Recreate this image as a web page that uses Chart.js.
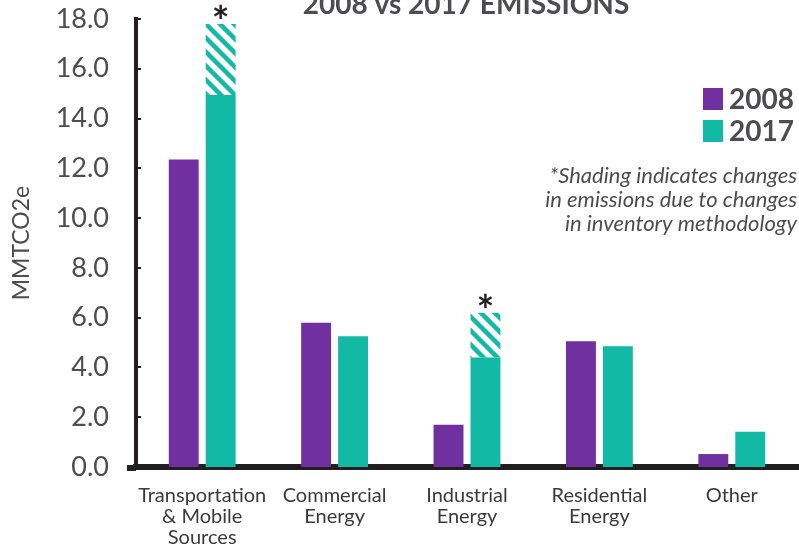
<!DOCTYPE html>
<html>
<head>
<meta charset="utf-8">
<script src="https://cdn.jsdelivr.net/npm/chart.js@4.4.1/dist/chart.umd.min.js"></script>
<style>
  html, body { margin: 0; padding: 0; background: #ffffff; }
  #wrap { width: 799px; height: 548px; position: relative; }
</style>
</head>
<body>
<div id="wrap"><canvas id="c" width="799" height="548"></canvas></div>
<script>
// ---- data ----
const categories = [
  ['Transportation', '& Mobile', 'Sources'],
  ['Commercial', 'Energy'],
  ['Industrial', 'Energy'],
  ['Residential', 'Energy'],
  'Other'
];
const seriesNames = ['2008', '2017'];
const values2008 = [12.35, 5.80, 1.70, 5.05, 0.52];
const values2017 = [14.95, 5.25, 4.40, 4.85, 1.42];
const methodologyChange2017 = [2.85, 0, 1.80, 0, 0];
const yTicks = [0, 2, 4, 6, 8, 10, 12, 14, 16, 18];
const titleText = '2008 vs 2017 EMISSIONS';
const yTitle = 'MMTCO2e';
const noteLines = ['*Shading indicates changes', 'in emissions due to changes', 'in inventory methodology'];

const PURPLE = '#7030A0';
const TEAL = '#12B9A5';
const INK = '#4d4d4f';
const AXIS = '#231f20';

function hatchPattern() {
  const s = 14;
  const c = document.createElement('canvas');
  c.width = s; c.height = s;
  const g = c.getContext('2d');
  g.fillStyle = '#ffffff';
  g.fillRect(0, 0, s, s);
  g.strokeStyle = TEAL;
  g.lineWidth = 4.5;
  g.lineCap = 'square';
  g.beginPath();
  g.moveTo(-s, -s); g.lineTo(2 * s, 2 * s);
  g.moveTo(-s, 0); g.lineTo(s, 2 * s);
  g.moveTo(0, -s); g.lineTo(2 * s, s);
  g.stroke();
  return g.createPattern(c, 'repeat');
}

const CHART_LEFT = 136;
const CHART_TOP = 19;
const CHART_BOTTOM = 467;

const extras = {
  id: 'extras',
  afterDraw(chart) {
    const ctx = chart.ctx;
    const area = chart.chartArea;
    const y = chart.scales.y;
    ctx.save();
    // title (partially cut off at top)
    ctx.fillStyle = INK;
    ctx.font = 'bold 28px Lato';
    ctx.textAlign = 'center';
    ctx.textBaseline = 'alphabetic';
    ctx.fillText(titleText, 466, 14);

    // inner y ticks
    ctx.strokeStyle = AXIS;
    ctx.lineWidth = 2;
    yTicks.forEach(v => {
      const py = Math.round(y.getPixelForValue(v));
      ctx.beginPath();
      ctx.moveTo(area.left, py);
      ctx.lineTo(area.left + 5, py);
      ctx.stroke();
    });
    // bottom axis extension
    ctx.fillStyle = AXIS;
    ctx.fillRect(127, area.bottom - 2, area.left - 127, 6);

    // legend
    const legendColors = [PURPLE, TEAL];
    const legendTops = [88, 120];
    ctx.font = 'bold 28px Lato';
    ctx.textAlign = 'left';
    ctx.textBaseline = 'middle';
    seriesNames.forEach((n, i) => {
      ctx.fillStyle = legendColors[i];
      ctx.fillRect(703, legendTops[i], 20, 22);
      ctx.fillStyle = INK;
      ctx.fillText(n, 729, legendTops[i] + 12);
    });

    // note
    ctx.font = 'italic 22px Lato';
    ctx.textAlign = 'right';
    ctx.fillStyle = INK;
    noteLines.forEach((l, i) => ctx.fillText(l, 797, 176 + i * 24));

    // asterisks above hatched bars
    const meta = chart.getDatasetMeta(2);
    ctx.font = 'bold 42px Lato';
    ctx.textAlign = 'center';
    ctx.textBaseline = 'alphabetic';
    ctx.fillStyle = AXIS;
    methodologyChange2017.forEach((v, i) => {
      if (v > 0) {
        const bar = meta.data[i];
        ctx.fillText('*', bar.x, bar.y + 13);
      }
    });
    ctx.restore();
  }
};

new Chart(document.getElementById('c'), {
  type: 'bar',
  data: {
    labels: categories,
    datasets: [
      { label: seriesNames[0], data: values2008, backgroundColor: PURPLE, stack: 'a' },
      { label: seriesNames[1], data: values2017, backgroundColor: TEAL, stack: 'b' },
      { label: seriesNames[1] + ' methodology', data: methodologyChange2017, backgroundColor: hatchPattern(), stack: 'b' }
    ]
  },
  options: {
    responsive: false,
    animation: false,
    devicePixelRatio: 1,
    layout: { padding: { top: CHART_TOP, right: 1, left: 0, bottom: 0 } },
    datasets: { bar: { barPercentage: 0.81, categoryPercentage: 0.558 } },
    plugins: { legend: { display: false }, tooltip: { enabled: false }, title: { display: false } },
    scales: {
      x: {
        stacked: true,
        grid: { display: false, drawTicks: false },
        border: { display: true, color: AXIS, width: 6 },
        ticks: { color: '#3a3a3c', font: { family: 'Lato', size: 20, lineHeight: 1.05 }, padding: 18, maxRotation: 0, autoSkip: false },
        afterFit(s) { s.height = 548 - CHART_BOTTOM; s.paddingLeft = 0; s.paddingRight = 0; }
      },
      y: {
        stacked: true,
        min: 0, max: 18,
        afterBuildTicks(s) { s.ticks = yTicks.map(v => ({ value: v })); },
        grid: { display: false, drawTicks: false },
        border: { display: true, color: AXIS, width: 4 },
        ticks: { color: INK, font: { family: 'Lato', size: 27 }, padding: 27, callback: v => Number(v).toFixed(1) },
        title: { display: true, text: yTitle, color: INK, font: { family: 'Lato', size: 23 }, padding: { top: 8, bottom: 0 } },
        afterFit(s) { s.width = CHART_LEFT; s.paddingTop = 0; s.paddingBottom = 0; }
      }
    }
  },
  plugins: [extras]
});
</script>
</body>
</html>
